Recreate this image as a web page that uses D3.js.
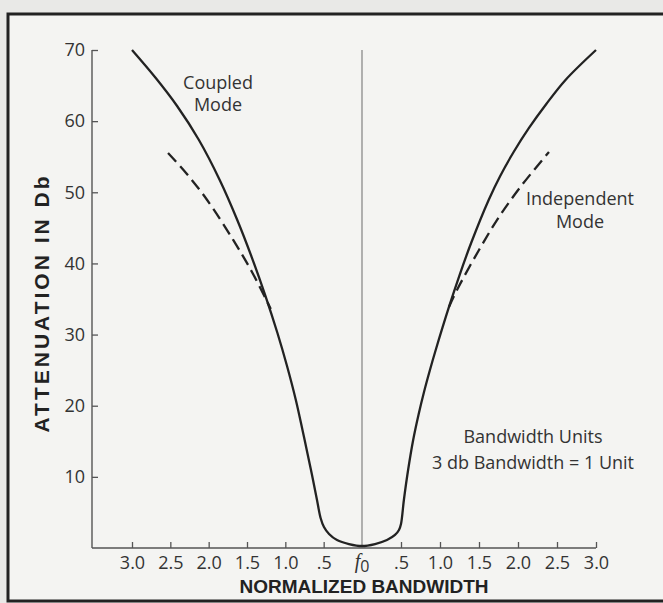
<!DOCTYPE html>
<html><head><meta charset="utf-8">
<script src="https://cdn.jsdelivr.net/npm/d3@7"></script>
<style>
html,body{margin:0;padding:0;background:#e9e9e7;}
svg{display:block;}
</style></head>
<body>
<svg id="chart" width="663" height="603"></svg>
<script>
// ---- data (normalized bandwidth units, attenuation dB) ----
const coupledMode = [
  [-3.0,70],[-2.690,66.06],[-2.412,62.13],[-2.127,57.35],[-1.856,51.73],[-1.627,46.11],
  [-1.439,40.9],[-1.263,35.56],[-1.103,30.22],[-0.978,25.58],[-0.863,20.8],[-0.729,14.2],
  [-0.652,10.26],[-0.587,6.75],[-0.540,4.22],[-0.496,2.95],[-0.43,1.97],[-0.326,1.12],
  [-0.17,0.56],[0,0.28],[0.167,0.56],[0.32,1.12],[0.423,1.83],[0.474,2.53],[0.5,3.37],
  [0.537,6.75],[0.591,10.96],[0.656,15.18],[0.724,18.7],[0.795,21.93],[0.871,25.02],
  [0.945,27.83],[1.115,33.88],[1.251,38.37],[1.399,42.87],[1.624,48.92],[1.772,52.29],
  [1.944,55.66],[2.141,59.04],[2.363,62.41],[2.609,65.79],[3.0,70]
];
const independentLeft = [[-2.53,55.52],[-2.295,52.71],[-2.02,48.92],[-1.68,43.3],[-1.428,38.66],[-1.19,33.6]];
const independentRight = [[1.115,33.88],[1.231,36.55],[1.5,41.89],[1.756,46.53],[2.051,51.03],[2.397,55.66]];
const yTicks = [10,20,30,40,50,60,70];
const xTicks = [-3,-2.5,-2,-1.5,-1,-0.5,0.5,1,1.5,2,2.5,3];
const xTickLabels = ["3.0","2.5","2.0","1.5","1.0",".5",".5","1.0","1.5","2.0","2.5","3.0"];

const svg = d3.select("#chart");
const axisX0 = 92; // y-axis position

const x = d3.scaleLinear().domain([-3,0,3]).range([132,362,596]);
const y = d3.scaleLinear().domain([0,70]).range([548,50]);

// frame
svg.append("rect").attr("x",8).attr("y",14).attr("width",700).attr("height",587)
  .attr("fill","#f4f4f2").attr("stroke","#222").attr("stroke-width",3);

const font = "'Open Sans', 'Liberation Sans', Arial, sans-serif";
const boldFont = "'Liberation Sans', Arial, sans-serif";
const txt = "#333";

// y axis
const ya = svg.append("g").attr("transform",`translate(${axisX0},0)`)
  .call(d3.axisLeft(y).tickValues(yTicks).tickSizeInner(-6).tickSizeOuter(0).tickPadding(7));
ya.select(".domain").remove();
ya.selectAll(".tick line").attr("stroke","#555").attr("stroke-width",1.3);
ya.selectAll(".tick text").attr("font-family",font).attr("font-size",18).attr("fill",txt);
svg.append("line").attr("x1",axisX0).attr("x2",axisX0).attr("y1",y(70)).attr("y2",y(0))
  .attr("stroke","#555").attr("stroke-width",1.4);

// x axis
const xa = svg.append("g").attr("transform",`translate(0,${y(0)})`)
  .call(d3.axisBottom(x).tickValues(xTicks).tickSizeInner(-6).tickSizeOuter(0).tickPadding(8)
    .tickFormat((d,i)=>xTickLabels[i]));
xa.select(".domain").remove();
xa.selectAll(".tick line").attr("stroke","#555").attr("stroke-width",1.3);
xa.selectAll(".tick text").attr("font-family",font).attr("font-size",18).attr("fill",txt);
svg.append("line").attr("x1",axisX0).attr("x2",x(3)).attr("y1",y(0)).attr("y2",y(0))
  .attr("stroke","#555").attr("stroke-width",1.4);

// f0 label
const f0 = svg.append("text").attr("x",x(0)).attr("y",y(0)+20).attr("text-anchor","middle").attr("fill",txt);
f0.append("tspan").attr("font-family","'Liberation Serif', 'DejaVu Serif', serif").attr("font-style","italic").attr("font-size",20).text("f");
f0.append("tspan").attr("font-family",font).attr("font-size",16).attr("dy",4).text("0");

// center line
svg.append("line").attr("x1",x(0)).attr("x2",x(0)).attr("y1",y(70)).attr("y2",y(0))
  .attr("stroke","#777").attr("stroke-width",1.1);

// curves
const line = d3.line().x(d=>x(d[0])).y(d=>y(d[1])).curve(d3.curveCatmullRom.alpha(0.5));
svg.append("path").attr("d",line(coupledMode)).attr("fill","none").attr("stroke","#222").attr("stroke-width",2.3);
[independentLeft, independentRight].forEach(s=>{
  svg.append("path").attr("d",line(s)).attr("fill","none").attr("stroke","#222")
    .attr("stroke-width",2.3).attr("stroke-dasharray","12,6");
});

// axis titles
svg.append("text").attr("x",364).attr("y",593).attr("text-anchor","middle")
  .attr("font-family",boldFont).attr("font-weight","bold").attr("font-size",19).attr("fill","#222")
  .text("NORMALIZED BANDWIDTH");
svg.append("text").attr("transform","translate(49,303) rotate(-90)").attr("text-anchor","middle")
  .attr("font-family",boldFont).attr("font-weight","bold").attr("font-size",21)
  .attr("letter-spacing",3).attr("fill","#222")
  .text("ATTENUATION IN Db");

// annotations
function label(lines, cx, y0, dy){
  const t = svg.append("text").attr("text-anchor","middle").attr("font-family",font)
    .attr("font-size",18).attr("fill",txt);
  lines.forEach((l,i)=>t.append("tspan").attr("x",cx).attr("y",y0+i*dy).text(l));
}
label(["Coupled","Mode"],218,89,22);
label(["Independent","Mode"],580,205,23);
label(["Bandwidth Units","3 db Bandwidth = 1 Unit"],533,443,26);
</script>
</body></html>
